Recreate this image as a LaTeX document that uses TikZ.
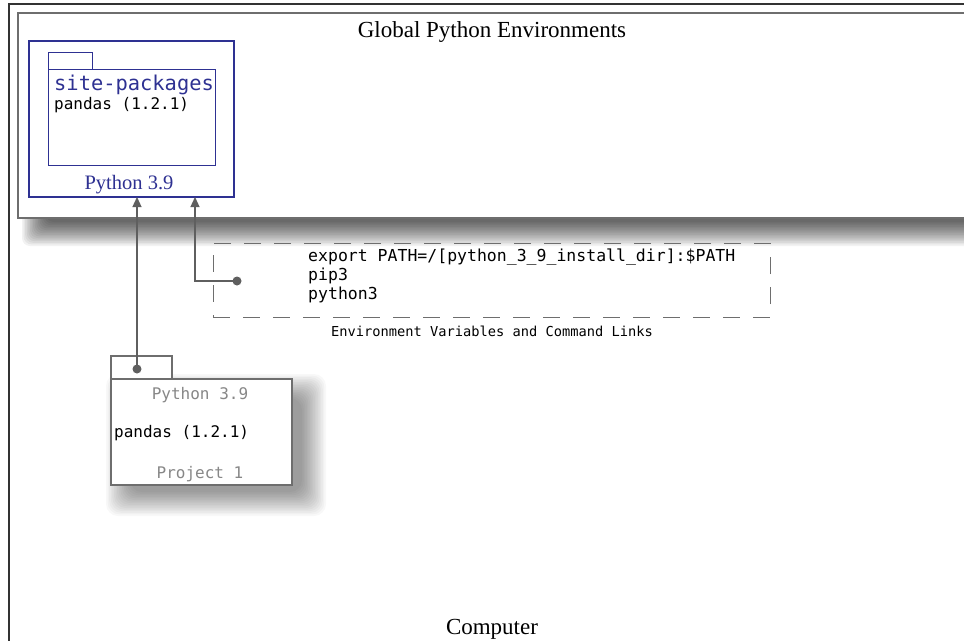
\documentclass[tikz,border=0pt]{standalone}
\usepackage{fontspec}
\setmainfont{Liberation Serif}
\setmonofont{DejaVu Sans Mono}
\usetikzlibrary{arrows.meta,calc}
\definecolor{pyblue}{RGB}{46,49,146}
\definecolor{lgray}{RGB}{110,110,110}
\definecolor{tgray}{RGB}{135,135,135}
\definecolor{agray}{RGB}{95,95,95}
\tikzset{
  box/.style={draw, anchor=north west, inner sep=0pt, outer sep=0pt},
  conn/.style={draw=agray, line width=1.2pt, -{Triangle[length=10pt,width=9pt]}},
  dotend/.style={circle, fill=agray, inner sep=0pt, minimum size=9pt},
  mono/.style={font=\ttfamily\fontsize{16}{19}\selectfont, inner sep=0pt},
  shadowlayer/.style={fill=black, fill opacity=#1, draw=none},
}
\begin{document}
\begin{tikzpicture}[x=1pt,y=-1pt]
\useasboundingbox (0,0) rectangle (964,640);
\clip (0,0) rectangle (964,640);
\fill[white] (0,0) rectangle (964,640);
% computer frame
\node[box, draw=black!80, line width=2pt, minimum width=980pt, minimum height=660pt] (comp) at (9,4) {};
\node[font=\fontsize{23}{26}\selectfont, anchor=base] (comptxt) at (492,634) {Computer};
% global shadow
\foreach \i in {0,...,15}{
  \fill[shadowlayer=0.05, rounded corners=8pt] ({22+\i*1.6},60) rectangle (1000,{246-\i*1.6});
}
% global environments
\node[box, draw=lgray, line width=2pt, fill=white, minimum width=980pt, minimum height=205pt] (glob) at (18,13) {};
\node[font=\fontsize{23}{26}\selectfont, anchor=base] (globtxt) at (492,37) {Global Python Environments};
% python 3.9 blue box
\node[box, draw=pyblue, line width=2.5pt, minimum width=205pt, minimum height=156pt] (py) at (29,41) {};
\node[box, draw=pyblue, line width=0.9pt, minimum width=44pt, minimum height=17pt] (sptab) at (48,52) {};
\node[box, draw=pyblue, line width=0.9pt, minimum width=167pt, minimum height=96pt] (sp) at (48,69) {};
\node[anchor=base west, font=\ttfamily\fontsize{20.4}{24}\selectfont, text=pyblue, inner sep=0pt] (sptxt) at (54,90) {site-packages};
\node[anchor=base west, mono] (sppd) at (54,109) {pandas (1.2.1)};
\node[anchor=base, font=\fontsize{20.5}{24}\selectfont, text=pyblue, inner sep=0pt] (pytxt) at (129,189) {Python 3.9};
% dashed env box
\node[box, draw=lgray, line width=0.9pt, dash pattern=on 17pt off 13pt, minimum width=557pt, minimum height=74pt] (env) at (213,243) {};
\node[anchor=north west, font=\ttfamily\fontsize{16.5}{19}\selectfont, inner sep=0pt, align=left] (envtxt) at (308,249) {export PATH=/[python\_3\_9\_install\_dir]:\$PATH\\pip3\\python3};
\node[anchor=base, font=\ttfamily\fontsize{13.7}{16}\selectfont, inner sep=0pt] (envcap) at (492,336) {Environment Variables and Command Links};
% project shadow
\foreach \i in {0,...,15}{
  \fill[shadowlayer=0.028, rounded corners=12pt] ({106+\i*1.6},{374+\i*1.6}) rectangle ({326-\i*1.6},{516-\i*1.6});
}
% project box
\node[box, draw=lgray, line width=1.2pt, fill=white, minimum width=181pt, minimum height=106pt] (proj) at (111,379) {};
\node[box, draw=lgray, line width=1.2pt, fill=white, minimum width=61pt, minimum height=23pt] (projtab) at (111,356) {};
\node[anchor=base, mono, text=tgray] (projpy) at (200,399) {Python 3.9};
\node[anchor=base west, mono] (projpd) at (114,437) {pandas (1.2.1)};
\node[anchor=base, mono, text=tgray] (projname) at (200,478) {Project 1};
% connectors
\node[dotend] (d1) at (137,369) {};
\node[dotend] (d2) at (237,281) {};
\coordinate (t1) at (137,197);
\coordinate (t2) at (195,197);
\draw[conn] (d1.center) -- (t1);
\draw[conn] (d2.center) -| (t2);
\end{tikzpicture}
\end{document}
